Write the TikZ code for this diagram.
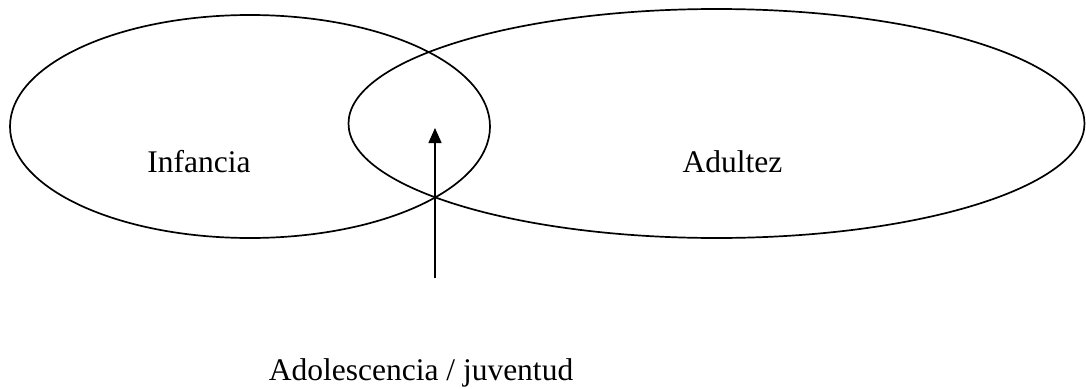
\documentclass[tikz,border=0pt]{standalone}
\usepackage{fontspec}
\setmainfont{Liberation Serif}
\usetikzlibrary{shapes.geometric,arrows.meta}
\begin{document}
\begin{tikzpicture}[x=1pt,y=-1pt,
  stage/.style={ellipse,draw,line width=1.7pt,inner sep=0pt},
  lbl/.style={anchor=base,inner sep=0pt,font=\fontsize{31.5}{38}\selectfont},
  pointer/.style={line width=1.5pt,-{Triangle[length=15pt,width=13pt]}}]
\useasboundingbox (0,0) rectangle (1086,388);
\node[stage,minimum width=480pt,minimum height=223pt] (inf) at (250,126.5) {};
\node[stage,minimum width=736pt,minimum height=229pt] (adu) at (716.5,123.5) {};
\node[lbl] (tinf) at (199,172) {Infancia};
\node[lbl] (tadu) at (732.5,172) {Adultez};
\node[lbl] (tado) at (421,380) {Adolescencia / juventud};
\coordinate (abot) at (435,278);
\coordinate (atip) at (435,128);
\draw[pointer] (abot) -- (atip);
\end{tikzpicture}
\end{document}
